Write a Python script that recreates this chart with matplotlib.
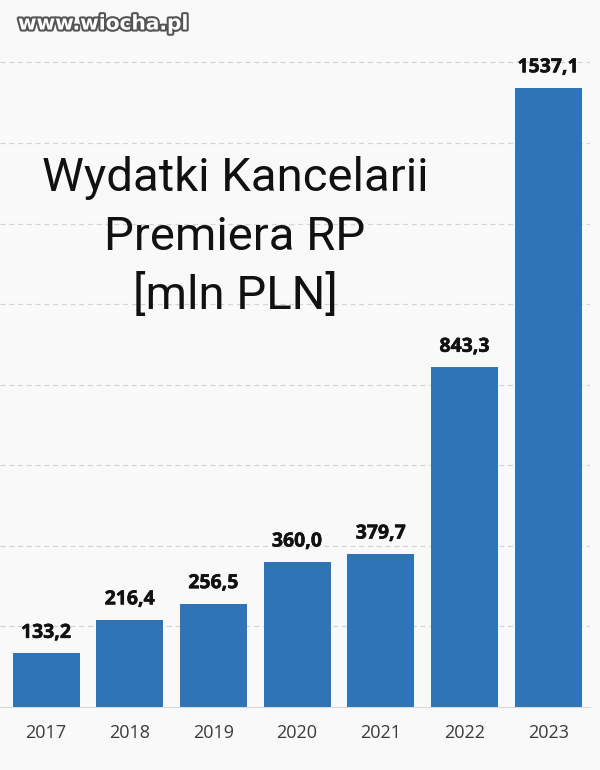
import matplotlib
matplotlib.use('Agg')
import matplotlib.pyplot as plt
import matplotlib.patheffects as pe

# dane
years = ['2017', '2018', '2019', '2020', '2021', '2022', '2023']
wydatki = [133.2, 216.4, 256.5, 360.0, 379.7, 843.3, 1537.1]
etykiety = ['133,2', '216,4', '256,5', '360,0', '379,7', '843,3', '1537,1']

bg = '#f9f9f9'
fig = plt.figure(figsize=(6, 7.7), dpi=100, facecolor=bg)
ax = fig.add_axes([0, 63 / 770, 590 / 600, 707 / 770], facecolor=bg)

x = range(len(years))
bars = ax.bar(x, wydatki, width=0.8, color='#2e74b6', zorder=3)

# etykiety wartości nad słupkami
for bar, txt in zip(bars, etykiety):
    ax.text(bar.get_x() + bar.get_width() / 2, bar.get_height() + 26, txt,
            ha='center', va='bottom', fontsize=14, fontweight='bold',
            family='Open Sans', color='#111111', zorder=4,
            path_effects=[pe.withStroke(linewidth=0.4, foreground='#111111')])

ax.set_xlim(-0.55, 6.5)
ax.set_ylim(0, 1755)
ax.set_yticks(range(200, 1800, 200))
ax.grid(axis='y', linestyle=(0, (4, 3)), color='#d4d4d4', linewidth=0.9, zorder=0)
for s in ['top', 'right', 'left']:
    ax.spines[s].set_visible(False)
ax.spines['bottom'].set_color('#d8d8d8')
ax.spines['bottom'].set_zorder(5)
ax.tick_params(axis='y', left=False, labelleft=False)
ax.tick_params(axis='x', bottom=False, pad=9)
ax.set_xticks(list(x))
ax.set_xticklabels(years, fontsize=13, family='Open Sans', color='#3a3a3a')

# tytuł
fig.text(235 / 600, 1 - 178 / 770, 'Wydatki Kancelarii', ha='center', va='center',
         fontsize=34, family='Roboto', color='#111111')
fig.text(235 / 600, 1 - 237 / 770, 'Premiera RP', ha='center', va='center',
         fontsize=34, family='Roboto', color='#111111')
fig.text(235 / 600, 1 - 295 / 770, '[mln PLN]', ha='center', va='center',
         fontsize=34, family='Roboto', color='#111111')

# znak wodny
fig.text(18 / 600, 1 - 24 / 770, 'www.wiocha.pl', ha='left', va='center',
         fontsize=14.5, fontweight='bold', family='DejaVu Sans', color='white',
         path_effects=[pe.withStroke(linewidth=3, foreground='#555555')])

fig.savefig('out.png', dpi=100, facecolor=bg)
